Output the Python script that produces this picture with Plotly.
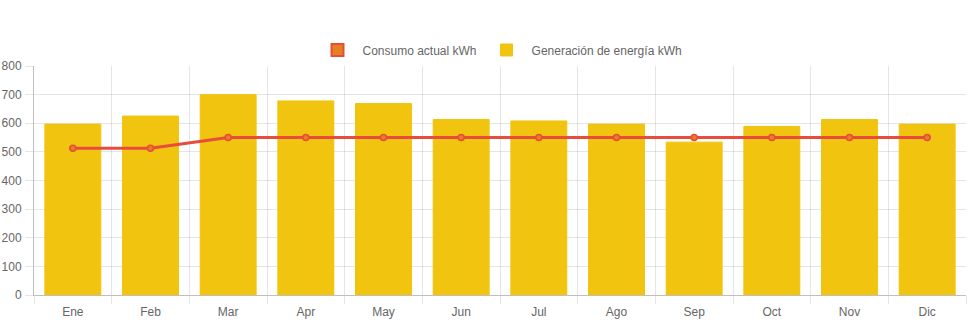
import plotly.graph_objects as go

meses = ["Ene", "Feb", "Mar", "Apr", "May", "Jun", "Jul", "Ago", "Sep", "Oct", "Nov", "Dic"]
generacion = [597, 625, 700, 678, 669, 613, 608, 597, 534, 589, 613, 597]
consumo = [513, 513, 550, 550, 550, 550, 550, 550, 550, 550, 550, 550]
y_ticks = [0, 100, 200, 300, 400, 500, 600, 700, 800]

RED = "#E74C3C"
ORANGE = "#E67E22"
YELLOW = "#F1C40F"
FONT = "Liberation Sans, Arial, sans-serif"

fig = go.Figure()

# legend proxy for the line (Chart.js shows a filled box)
fig.add_trace(go.Bar(
    x=[meses[0]], y=[None], name="Consumo actual kWh",
    marker=dict(color=ORANGE, line=dict(color=RED, width=2)),
    legendgroup="c", showlegend=True, hoverinfo="skip",
))
fig.add_trace(go.Bar(
    x=meses, y=generacion, name="Generación de energía kWh",
    marker=dict(color=YELLOW, line=dict(color=YELLOW, width=1)),
))
fig.add_trace(go.Scatter(
    x=meses, y=consumo, name="Consumo actual kWh", mode="lines+markers",
    line=dict(color=RED, width=3),
    marker=dict(color=ORANGE, size=6, line=dict(color=RED, width=1.5)),
    legendgroup="c", showlegend=False,
))

fig.update_layout(
    width=971, height=323,
    margin=dict(l=34, r=5, t=66, b=28, autoexpand=False),
    paper_bgcolor="white", plot_bgcolor="white",
    barmode="overlay", bargap=0.28,
    font=dict(family=FONT, size=12, color="#666"),
    legend=dict(orientation="h", x=0.5, xanchor="center", y=1 - 50 / 323,
                yanchor="middle", yref="container", traceorder="normal",
                font=dict(size=12, color="#666"), itemwidth=40),
)
fig.update_xaxes(
    type="category", categoryorder="array", categoryarray=meses,
    tickson="boundaries", showgrid=True, gridcolor="rgba(0,0,0,0.1)", gridwidth=1,
    ticks="outside", ticklen=8, tickcolor="rgba(0,0,0,0.1)",
    showline=True, linecolor="rgba(0,0,0,0.25)", linewidth=1,
    tickfont=dict(size=12, color="#666"), fixedrange=True,
    range=[-0.5, 11.5], ticklabelstandoff=6,
)
fig.update_yaxes(
    range=[0, 800], tickvals=y_ticks, ticktext=[str(v) for v in y_ticks],
    showgrid=True, gridcolor="rgba(0,0,0,0.1)", gridwidth=1,
    ticks="outside", ticklen=8, tickcolor="rgba(0,0,0,0.1)",
    showline=True, linecolor="rgba(0,0,0,0.25)", linewidth=1,
    zeroline=False, tickfont=dict(size=12, color="#666"), fixedrange=True,
    ticklabelstandoff=1,
)

fig.write_html("out.html")
